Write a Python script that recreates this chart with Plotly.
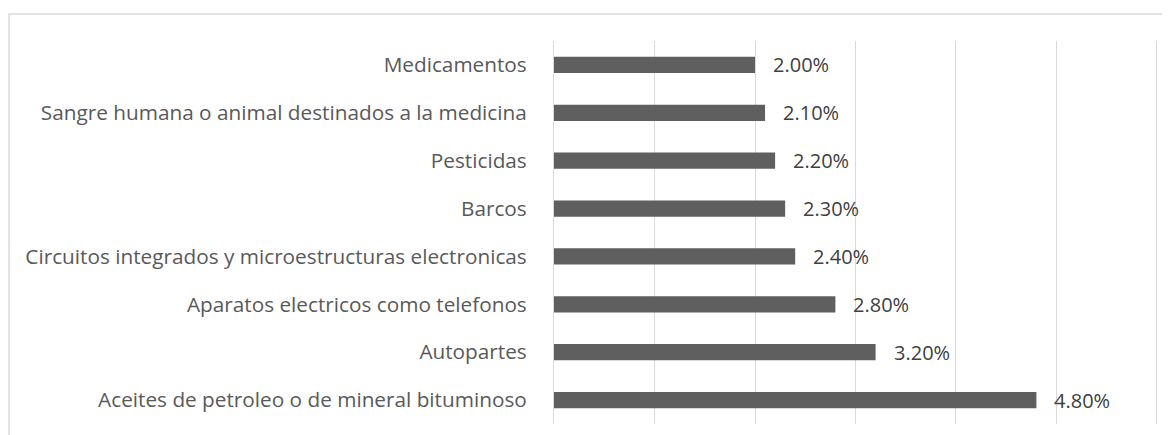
import plotly.graph_objects as go

categories = [
    "Medicamentos",
    "Sangre humana o animal destinados a la medicina",
    "Pesticidas",
    "Barcos",
    "Circuitos integrados y microestructuras electronicas",
    "Aparatos electricos como telefonos",
    "Autopartes",
    "Aceites de petroleo o de mineral bituminoso",
]
values = [2.0, 2.1, 2.2, 2.3, 2.4, 2.8, 3.2, 4.8]
value_labels = ["2.00%", "2.10%", "2.20%", "2.30%", "2.40%", "2.80%", "3.20%", "4.80%"]

FONT = "Open Sans"
# page has an 8px body margin; figure placed at (8,8)
W, H = 1162, 427
L, R, T, B = 546, 11, 33, 11
pw = W - L - R
ph = H - T - B

fig = go.Figure()
fig.add_trace(go.Bar(
    x=values, y=categories, orientation="h",
    marker=dict(color="#5f5f5f", line=dict(width=0)),
    hoverinfo="skip",
))

for v, c, t in zip(values, categories, value_labels):
    fig.add_annotation(x=v, y=c, text=t, xanchor="left", yanchor="middle",
                       xshift=16, showarrow=False,
                       font=dict(family=FONT, size=20, color="#404040"))

# chart border
fig.add_shape(type="rect", xref="paper", yref="paper",
              x0=(1 - L) / pw, x1=(W + 20 - L) / pw,
              y0=-0.2, y1=(H - B - 6) / ph,
              line=dict(color="#d9d9d9", width=1.5), fillcolor="rgba(0,0,0,0)", layer="below")

fig.update_layout(
    width=W, height=H,
    margin=dict(l=L, r=R, t=T, b=B),
    plot_bgcolor="white", paper_bgcolor="white",
    bargap=0.66,
    showlegend=False,
    xaxis=dict(range=[0, 6.02], dtick=1, showgrid=True, gridcolor="#d9d9d9", gridwidth=1.2,
               showticklabels=False, zeroline=False, showline=False, fixedrange=True),
    yaxis=dict(autorange="reversed", showgrid=False, zeroline=False,
               showline=True, linecolor="#d9d9d9", linewidth=1.2,
               ticks="", ticklabelstandoff=22,
               tickfont=dict(family=FONT, size=20.75, color="#595959")),
)

fig.write_html("out.html")
